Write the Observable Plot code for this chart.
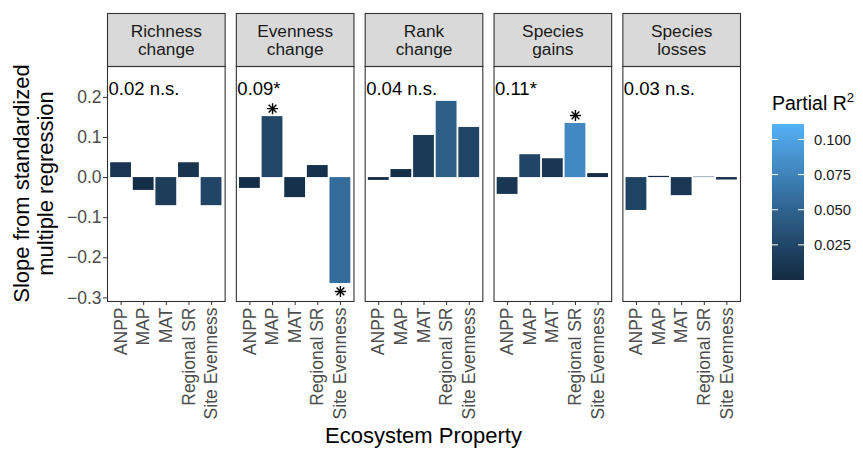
<!DOCTYPE html>
<html>
<head>
<meta charset="utf-8">
<script src="https://cdn.jsdelivr.net/npm/d3@7"></script>
<script src="https://cdn.jsdelivr.net/npm/@observablehq/plot@0.6"></script>
<style>
  html, body { margin: 0; padding: 0; background: #fff; }
  #chart { width: 863px; height: 449px; position: relative; overflow: hidden; }
</style>
</head>
<body>
<div id="chart"></div>
<script>
// ---- data ----
const responses = ["Richness change", "Evenness change", "Rank change", "Species gains", "Species losses"];
const stripLabels = ["Richness\nchange", "Evenness\nchange", "Rank\nchange", "Species\ngains", "Species\nlosses"];
const properties = ["ANPP", "MAP", "MAT", "Regional SR", "Site Evenness"];
const totalR2Labels = ["0.02 n.s.", "0.09*", "0.04 n.s.", "0.11*", "0.03 n.s."];

const slopeRichness = [0.037, -0.032, -0.070, 0.037, -0.070];
const slopeEvenness = [-0.027, 0.152, -0.050, 0.030, -0.264];
const slopeRank     = [-0.007, 0.020, 0.105, 0.190, 0.125];
const slopeGains    = [-0.042, 0.057, 0.047, 0.135, 0.010];
const slopeLosses   = [-0.082, 0.003, -0.045, 0.001, -0.006];

const r2Richness = [0.010, 0.003, 0.016, 0.009, 0.024];
const r2Evenness = [0.003, 0.025, 0.006, 0.006, 0.058];
const r2Rank     = [0.002, 0.004, 0.014, 0.045, 0.024];
const r2Gains    = [0.011, 0.024, 0.011, 0.080, 0.003];
const r2Losses   = [0.022, 0.002, 0.012, 0.001, 0.004];

const sigRichness = [false, false, false, false, false];
const sigEvenness = [false, true, false, false, true];
const sigRank     = [false, false, false, false, false];
const sigGains    = [false, false, false, true, false];
const sigLosses   = [false, false, false, false, false];

const yTicks = [-0.3, -0.2, -0.1, 0.0, 0.1, 0.2];
const legendTicks = [0.025, 0.050, 0.075, 0.100];

// ---- table ----
const slopes = [slopeRichness, slopeEvenness, slopeRank, slopeGains, slopeLosses];
const r2s = [r2Richness, r2Evenness, r2Rank, r2Gains, r2Losses];
const sigs = [sigRichness, sigEvenness, sigRank, sigGains, sigLosses];
const rows = [];
responses.forEach((resp, i) => properties.forEach((prop, j) => {
  rows.push({response: resp, property: prop, slope: slopes[i][j], r2: r2s[i][j], sig: sigs[i][j]});
}));
const sigPos = rows.filter(d => d.sig && d.slope >= 0);
const sigNeg = rows.filter(d => d.sig && d.slope < 0);

const FONT = "'Liberation Sans', Arial, Helvetica, sans-serif";
const W = 863, H = 449;
const mTop = 66, mBottom = 148, mLeft = 107, mRight = 123;
const panelH = H - mTop - mBottom;

const colorOpts = {type: "linear", domain: [0, 0.111], range: ["#132B43", "#56B1F7"], interpolate: "lab"};

// 8-point asterisk (ggplot shape 8)
const star8 = {
  draw(ctx, size) {
    const r = Math.sqrt(size / Math.PI);
    for (let k = 0; k < 4; k++) {
      const a = k * Math.PI / 4;
      const dx = r * Math.cos(a), dy = r * Math.sin(a);
      ctx.moveTo(-dx, -dy);
      ctx.lineTo(dx, dy);
    }
  }
};

const plot = Plot.plot({
  width: W,
  height: H,
  marginTop: mTop,
  marginBottom: mBottom,
  marginLeft: mLeft,
  marginRight: mRight,
  style: {fontFamily: FONT, background: "white", overflow: "visible"},
  fx: {domain: responses, paddingInner: 0.087, paddingOuter: 0, round: false, axis: null, label: null},
  x: {domain: properties, paddingInner: 0.08, paddingOuter: 0.14, round: false, label: null},
  y: {domain: [-0.309, 0.277], label: null},
  color: colorOpts,
  marks: [
    // strip background
    Plot.frame({fill: "#d9d9d9", stroke: "#333333", strokeWidth: 1.1, insetTop: -53, insetBottom: panelH}),
    Plot.text(responses, {fx: d => d, text: (d, i) => stripLabels[i], frameAnchor: "top", dy: -26.5,
      lineAnchor: "middle", fontSize: 17.3, lineHeight: 1.06, fill: "#1a1a1a"}),
    // bars
    Plot.rectY(rows, {fx: "response", x: "property", y1: 0, y2: "slope", fill: "r2"}),
    // significance asterisks
    Plot.dot(sigPos, {fx: "response", x: "property", y: "slope", symbol: star8, r: 5.5, stroke: "black", strokeWidth: 1.4, dy: -8}),
    Plot.dot(sigNeg, {fx: "response", x: "property", y: "slope", symbol: star8, r: 5.5, stroke: "black", strokeWidth: 1.4, dy: 8}),
    // total R2 annotations
    Plot.text(responses, {fx: d => d, text: (d, i) => totalR2Labels[i], frameAnchor: "top-left", dx: 1, dy: 23,
      lineAnchor: "middle", fontSize: 18.5, fill: "black"}),
    // panel border
    Plot.frame({stroke: "#333333", strokeWidth: 1.1}),
    // axes
    Plot.axisY({ticks: yTicks, tickFormat: d3.format(".1f"), tickSize: 4, tickPadding: 2, fontSize: 17.5,
      stroke: "#333333", fill: "#4d4d4d", label: null}),
    Plot.axisX({tickRotate: -90, tickSize: 4, tickPadding: 2, fontSize: 17.5,
      stroke: "#333333", fill: "#4d4d4d", label: null})
  ]
});

document.getElementById("chart").appendChild(plot);

// ---- titles and legend (added to the same SVG) ----
const svg = d3.select(plot);
const yMid = mTop + panelH / 2;
const ytitle = svg.append("text")
  .attr("transform", `translate(32,${yMid}) rotate(-90)`)
  .attr("text-anchor", "middle")
  .attr("font-family", FONT).attr("font-size", 22).attr("fill", "black");
ytitle.append("tspan").attr("x", 0).attr("dy", "-0.15em").text("Slope from standardized");
ytitle.append("tspan").attr("x", 0).attr("dy", "1.1em").text("multiple regression");

svg.append("text")
  .attr("x", (mLeft + (W - mRight)) / 2).attr("y", 443)
  .attr("text-anchor", "middle")
  .attr("font-family", FONT).attr("font-size", 22).attr("fill", "black")
  .text("Ecosystem Property");

// legend
const cscale = Plot.scale({color: colorOpts});
const lg = svg.append("g").attr("font-family", FONT).attr("text-anchor", "start");
const bx = 772, by = 124, bw = 32, bh = 156;
const dmax = colorOpts.domain[1];
const grad = svg.append("defs").append("linearGradient")
  .attr("id", "r2grad").attr("x1", 0).attr("y1", 1).attr("x2", 0).attr("y2", 0);
for (let k = 0; k <= 20; k++) {
  const t = k / 20;
  grad.append("stop").attr("offset", t).attr("stop-color", cscale.apply(t * dmax));
}
const lt = lg.append("text").attr("x", bx).attr("y", 110).attr("font-size", 19.5).attr("fill", "black").attr("text-anchor", "start");
lt.append("tspan").text("Partial R");
lt.append("tspan").attr("dy", -8).attr("font-size", 13).text("2");
lg.append("rect").attr("x", bx).attr("y", by).attr("width", bw).attr("height", bh).attr("fill", "url(#r2grad)");
const ly = v => by + (dmax - v) / dmax * bh;
legendTicks.forEach(v => {
  const y = ly(v);
  lg.append("line").attr("x1", bx).attr("x2", bx + 6).attr("y1", y).attr("y2", y).attr("stroke", "white").attr("stroke-width", 1);
  lg.append("line").attr("x1", bx + bw - 6).attr("x2", bx + bw).attr("y1", y).attr("y2", y).attr("stroke", "white").attr("stroke-width", 1);
  lg.append("text").attr("x", bx + bw + 10).attr("y", y).attr("dy", "0.35em").attr("text-anchor", "start")
    .attr("font-size", 14.8).attr("fill", "#1a1a1a").text(d3.format(".3f")(v));
});
</script>
</body>
</html>
